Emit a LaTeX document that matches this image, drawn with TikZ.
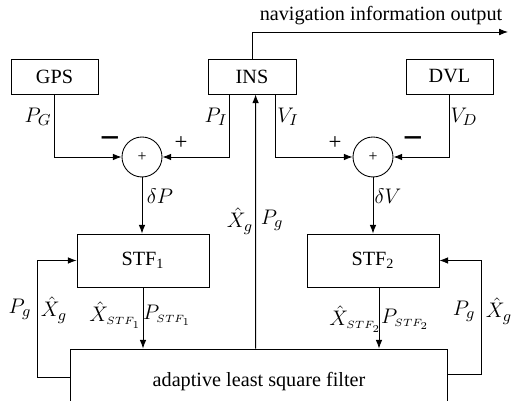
\documentclass[tikz,border=0pt]{standalone}
\usepackage{fontspec}
\setmainfont{Liberation Serif}
\usetikzlibrary{calc,arrows.meta}
\begin{document}
\begin{tikzpicture}[x=0.02cm, y=-0.02cm, line width=0.5pt,
  font=\fontsize{11.5}{13}\selectfont,
  >={Latex[length=5pt,width=3.8pt]},
  blk/.style={draw, minimum height=0.7cm, inner sep=0pt},
  sumc/.style={draw, circle, minimum size=0.8cm, inner sep=0pt},
  lbl/.style={font=\fontsize{13}{15}\selectfont, inner sep=0pt},
  slbl/.style={font=\fontsize{12}{14}\selectfont, inner sep=0pt},
  sgn/.style={font=\fontsize{20}{20}\selectfont\bfseries, inner sep=0pt}]
\useasboundingbox (0,0) rectangle (514,401);

% Sensors
\node (gps) [blk, minimum width=1.74cm] at (54.5,76.5) {GPS};
\node (ins) [blk, minimum width=1.76cm] at (252,76.5) {INS};
\node (dvl) [blk, minimum width=1.74cm] at (449.5,76.5) {DVL};

% Summing junctions
\node (sum1) [sumc] at (142,157) {\small +};
\node (sum2) [sumc] at (373,157) {\small +};

% Filters
\node (stf1) [blk, minimum width=2.64cm, minimum height=1.06cm] at (143,260.5) {STF\textsubscript{1}};
\node (stf2) [blk, minimum width=2.64cm, minimum height=1.06cm] at (373,260.5) {STF\textsubscript{2}};
\node (alsf) [blk, minimum width=7.54cm, minimum height=1.3cm] at (259,381.5) {adaptive least square filter};

% Output
\coordinate (navout) at (508,32);
\draw[->] (ins.north) |- (navout);
\node (navtxt) at (381,16) {navigation information output};

% Differences
\draw[->] (gps.south) |- (sum1.west);
\draw[->] ($(ins.south west)+(22,0)$) |- (sum1.east);
\draw[->] ($(ins.south east)+(-21,0)$) |- (sum2.west);
\draw[->] (dvl.south) |- (sum2.east);
\draw[->] (sum1.south) -- (sum1.south |- stf1.north);
\draw[->] (sum2.south) -- (sum2.south |- stf2.north);

% Into the adaptive filter
\coordinate (stf2out) at ($(stf2.south)+(6,0)$);
\draw[->] (stf1.south) -- (stf1.south |- alsf.north);
\draw[->] (stf2out) -- (stf2out |- alsf.north);

% Feedback
\draw[->] ($(alsf.north west)+(185.5,0)$) -- ($(ins.south west)+(48,0)$);
\coordinate (lfb) at (37,377);
\draw[->] (alsf.west |- lfb) -- (lfb) |- (stf1.west);
\coordinate (rfb) at (481,374);
\draw[->] (alsf.east |- rfb) -- (rfb) |- (stf2.east);

% Labels
\node (pG) [lbl] at (38,117) {$P_G$};
\node (pI) [lbl] at (216,117) {$P_I$};
\node (vI) [lbl] at (288,117) {$V_I$};
\node (vD) [lbl] at (464,117) {$V_D$};
\node (m1) [sgn] at (110,143) {−};
\node (p1) [lbl] at (181,143) {+};
\node (p2) [lbl] at (335,143) {+};
\node (m2) [sgn] at (413,143) {−};
\node (dP) [lbl] at (160,196) {$\delta P$};
\node (dV) [lbl] at (388,196) {$\delta V$};
\node (xg) [lbl] at (240,221) {$\hat{X}_g$};
\node (pg) [lbl] at (272,220) {$P_g$};
\node (x1) [slbl] at (115,315) {$\hat{X}_{\scriptscriptstyle STF_1}$};
\node (ps1) [slbl] at (167,315) {$P_{\scriptscriptstyle STF_1}$};
\node (x2) [slbl] at (355,319) {$\hat{X}_{\scriptscriptstyle STF_2}$};
\node (ps2) [slbl] at (405,319) {$P_{\scriptscriptstyle STF_2}$};
\node (pgl) [lbl] at (20,309) {$P_g$};
\node (xgl) [lbl] at (54,310) {$\hat{X}_g$};
\node (pgr) [lbl] at (464,311) {$P_g$};
\node (xgr) [lbl] at (499,311) {$\hat{X}_g$};

\end{tikzpicture}
\end{document}
